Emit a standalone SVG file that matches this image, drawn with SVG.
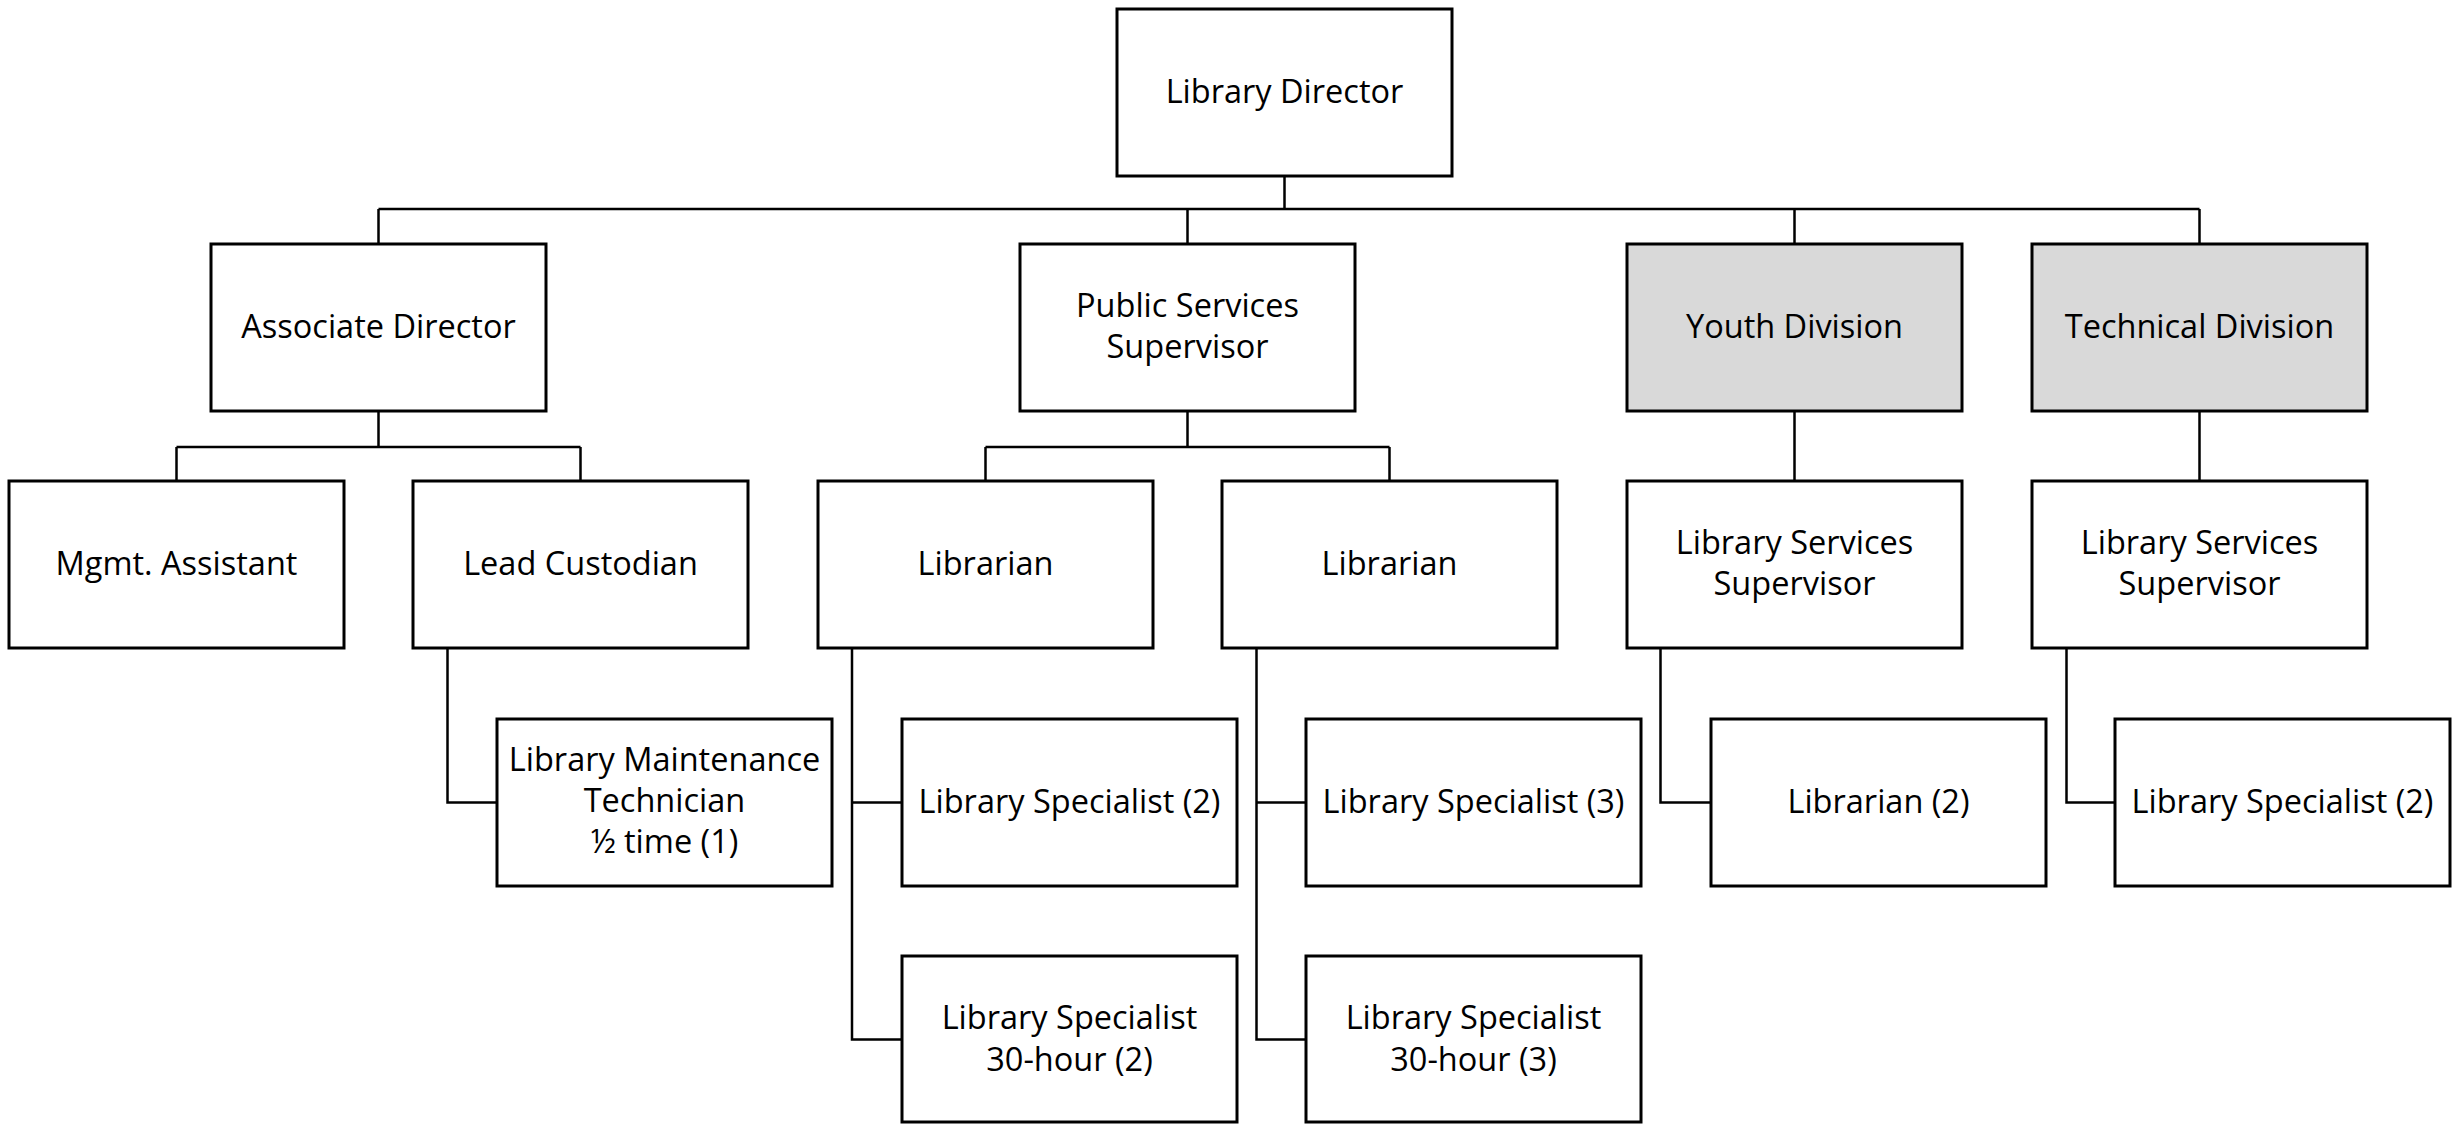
<svg xmlns="http://www.w3.org/2000/svg" width="2453" height="1124" viewBox="0 0 2453 1124">
<style>
rect.b{fill:#fff;stroke:#000;stroke-width:3}
rect.g{fill:#d9d9d9;stroke:#000;stroke-width:3}
text{font-family:"Open Sans","Noto Sans","Liberation Sans",sans-serif;font-size:32.5px;fill:#000;text-anchor:middle}
#connectors path{fill:none;stroke:#000;stroke-width:2.5}
</style>
<rect x="0" y="0" width="2453" height="1124" fill="#fff"/>
<g id="connectors">
<path d="M1284.5 176V209M378.5 209H2199.5M378.5 209V244M1187.5 209V244M1794.5 209V244M2199.5 209V244"/>
<path d="M378.5 411V447M176.5 447H580.5M176.5 447V481M580.5 447V481"/>
<path d="M1187.5 411V447M985.5 447H1389.5M985.5 447V481M1389.5 447V481"/>
<path d="M1794.5 411V481M2199.5 411V481"/>
<path d="M447.5 648V802.5H497"/>
<path d="M852 648V1039.5H902M852 802.5H902"/>
<path d="M1256.5 648V1039.5H1306M1256.5 802.5H1306"/>
<path d="M1660.5 648V802.5H1711"/>
<path d="M2066.5 648V802.5H2115"/>
</g>
<g id="director"><rect class="b" x="1117" y="9" width="335" height="167"/><text x="1284.5" y="103">Library Director</text></g>
<g id="assoc"><rect class="b" x="211" y="244" width="335" height="167"/><text x="378.5" y="338">Associate Director</text></g>
<g id="pss"><rect class="b" x="1020" y="244" width="335" height="167"/><text x="1187.5" y="317">Public Services</text><text x="1187.5" y="358">Supervisor</text></g>
<g id="youth"><rect class="g" x="1627" y="244" width="335" height="167"/><text x="1794.5" y="338">Youth Division</text></g>
<g id="tech"><rect class="g" x="2032" y="244" width="335" height="167"/><text x="2199.5" y="338">Technical Division</text></g>
<g id="mgmt"><rect class="b" x="9" y="481" width="335" height="167"/><text x="176.5" y="575">Mgmt. Assistant</text></g>
<g id="custodian"><rect class="b" x="413" y="481" width="335" height="167"/><text x="580.5" y="575">Lead Custodian</text></g>
<g id="librarian1"><rect class="b" x="818" y="481" width="335" height="167"/><text x="985.5" y="575">Librarian</text></g>
<g id="librarian2"><rect class="b" x="1222" y="481" width="335" height="167"/><text x="1389.5" y="575">Librarian</text></g>
<g id="lss1"><rect class="b" x="1627" y="481" width="335" height="167"/><text x="1794.5" y="554">Library Services</text><text x="1794.5" y="595">Supervisor</text></g>
<g id="lss2"><rect class="b" x="2032" y="481" width="335" height="167"/><text x="2199.5" y="554">Library Services</text><text x="2199.5" y="595">Supervisor</text></g>
<g id="lmt"><rect class="b" x="497" y="719" width="335" height="167"/><text x="664.5" y="771">Library Maintenance</text><text x="664.5" y="812">Technician</text><text x="664.5" y="853">½ time (1)</text></g>
<g id="ls2"><rect class="b" x="902" y="719" width="335" height="167"/><text x="1069.5" y="813">Library Specialist (2)</text></g>
<g id="ls3"><rect class="b" x="1306" y="719" width="335" height="167"/><text x="1473.5" y="813">Library Specialist (3)</text></g>
<g id="lib2"><rect class="b" x="1711" y="719" width="335" height="167"/><text x="1878.5" y="813">Librarian (2)</text></g>
<g id="ls2t"><rect class="b" x="2115" y="719" width="335" height="167"/><text x="2282.5" y="813">Library Specialist (2)</text></g>
<g id="ls30a"><rect class="b" x="902" y="956" width="335" height="166"/><text x="1069.5" y="1029">Library Specialist</text><text x="1069.5" y="1070.5">30-hour (2)</text></g>
<g id="ls30b"><rect class="b" x="1306" y="956" width="335" height="166"/><text x="1473.5" y="1029">Library Specialist</text><text x="1473.5" y="1070.5">30-hour (3)</text></g>
</svg>
